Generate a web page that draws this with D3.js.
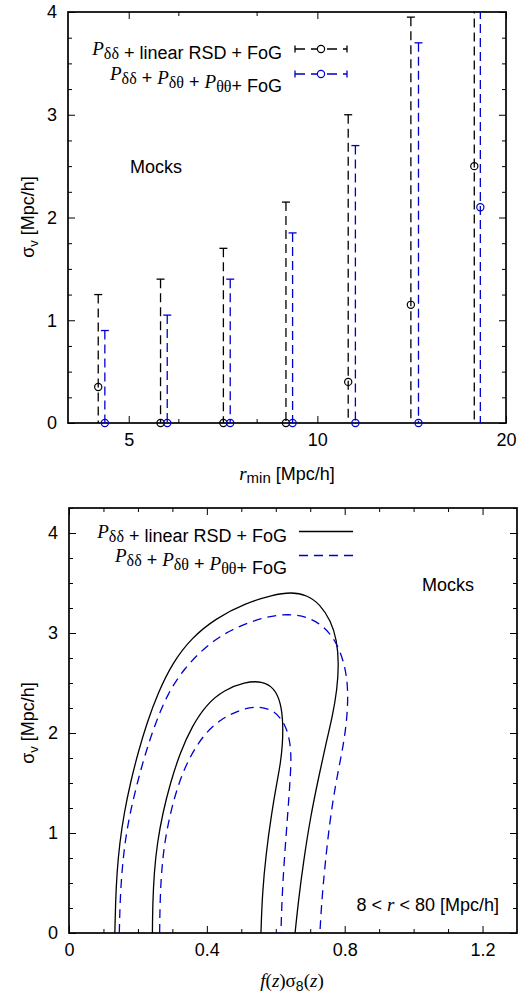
<!DOCTYPE html>
<html>
<head>
<meta charset="utf-8">
<script src="https://cdn.jsdelivr.net/npm/d3@7"></script>
<style>
  html, body { margin: 0; padding: 0; background: #fff; }
  svg { display: block; }
  .sans { font-family: "Liberation Sans", Arial, Helvetica, sans-serif; }
  .serif { font-family: "Liberation Serif", "Times New Roman", serif; }
</style>
</head>
<body>
<svg id="chart" width="525" height="994"></svg>
<script>
// ---------- top panel: sigma_v constraints vs r_min ----------
const rBlack = [4.47, 5.62, 7.08, 8.91, 11.2, 14.1, 17.8];
const rBlue = [4.58, 5.76, 7.26, 9.13, 11.5, 14.5, 18.2];
const sigBlack = [0.35, 0, 0, 0, 0.40, 1.15, 2.50];
const errBlack = [0.90, 1.40, 1.70, 2.15, 2.60, 2.80, 2.80];
const sigBlue = [0, 0, 0, 0, 0, 0, 2.10];
const errBlue = [0.90, 1.05, 1.40, 1.85, 2.70, 3.70, 2.60];
const topXTicks = [5, 10, 20];
const topXMinor = [6, 8];
const topYTicks = [0, 1, 2, 3, 4];

// ---------- bottom panel: 1 and 2 sigma contours (f sigma8, sigma_v) ----------
const outerBlack = [[0.133,0],[0.135,0.3],[0.139,0.6],[0.147,0.9],[0.160,1.2],[0.178,1.5],[0.200,1.8],[0.226,2.1],[0.258,2.4],[0.300,2.7],[0.355,2.95],[0.427,3.15],[0.514,3.30],[0.59,3.38],[0.645,3.41],[0.69,3.38],[0.728,3.29],[0.760,3.12],[0.777,2.93],[0.783,2.70],[0.778,2.43],[0.764,2.16],[0.748,1.93],[0.727,1.60],[0.700,1.15],[0.680,0.70],[0.666,0.33],[0.656,0]];
const outerBlue = [[0.146,0],[0.148,0.3],[0.153,0.6],[0.162,0.9],[0.177,1.2],[0.198,1.5],[0.222,1.8],[0.251,2.1],[0.287,2.4],[0.335,2.65],[0.398,2.87],[0.466,3.03],[0.562,3.16],[0.650,3.20],[0.718,3.13],[0.770,2.96],[0.800,2.70],[0.811,2.43],[0.806,2.10],[0.792,1.80],[0.774,1.50],[0.756,1.10],[0.742,0.65],[0.733,0.3],[0.728,0]];
const innerBlack = [[0.242,0],[0.243,0.3],[0.247,0.6],[0.256,0.9],[0.272,1.2],[0.294,1.5],[0.322,1.8],[0.357,2.07],[0.400,2.29],[0.450,2.43],[0.510,2.51],[0.560,2.52],[0.596,2.45],[0.615,2.30],[0.621,2.10],[0.620,1.90],[0.614,1.70],[0.603,1.50],[0.588,1.20],[0.572,0.80],[0.561,0.40],[0.557,0]];
const innerBlue = [[0.263,0],[0.264,0.3],[0.268,0.6],[0.277,0.9],[0.294,1.2],[0.318,1.5],[0.350,1.76],[0.390,1.98],[0.440,2.14],[0.500,2.24],[0.552,2.27],[0.598,2.22],[0.627,2.09],[0.641,1.93],[0.645,1.75],[0.642,1.55],[0.635,1.2],[0.625,0.75],[0.618,0.35],[0.615,0]];
const botXTicks = [0, 0.4, 0.8, 1.2];
const botYTicks = [0, 1, 2, 3, 4];

const BLUE = "#0000cc";
const FS = 18;
const svg = d3.select("#chart");

// ---------- helpers ----------
function frameAxes(g, x, y, majX, minX, majY, minY, fmtX, fmtY, box) {
  const [x0, x1] = box.x, [y0, y1] = box.y;
  const style = sel => {
    sel.select(".domain").remove();
    sel.selectAll("line").attr("stroke", "#000").attr("stroke-width", 1);
    sel.selectAll("text").attr("class", "sans").attr("font-size", FS).attr("fill", "#000");
  };
  g.append("g").attr("transform", `translate(0,${y0})`)
    .call(d3.axisBottom(x).tickValues(majX).tickSize(-7).tickPadding(10).tickFormat(fmtX)).call(style);
  g.append("g").attr("transform", `translate(0,${y0})`)
    .call(d3.axisBottom(x).tickValues(minX).tickSize(-4).tickFormat("")).call(style);
  g.append("g").attr("transform", `translate(0,${y1})`)
    .call(d3.axisTop(x).tickValues(majX).tickSize(-7).tickFormat("")).call(style);
  g.append("g").attr("transform", `translate(0,${y1})`)
    .call(d3.axisTop(x).tickValues(minX).tickSize(-4).tickFormat("")).call(style);
  g.append("g").attr("transform", `translate(${x0},0)`)
    .call(d3.axisLeft(y).tickValues(majY).tickSize(-7).tickPadding(11).tickFormat(fmtY)).call(style);
  g.append("g").attr("transform", `translate(${x0},0)`)
    .call(d3.axisLeft(y).tickValues(minY).tickSize(-4).tickFormat("")).call(style);
  g.append("g").attr("transform", `translate(${x1},0)`)
    .call(d3.axisRight(y).tickValues(majY).tickSize(-7).tickFormat("")).call(style);
  g.append("g").attr("transform", `translate(${x1},0)`)
    .call(d3.axisRight(y).tickValues(minY).tickSize(-4).tickFormat("")).call(style);
  g.append("rect").attr("x", x0).attr("y", y1).attr("width", x1 - x0).attr("height", y0 - y1)
    .attr("fill", "none").attr("stroke", "#000").attr("stroke-width", 1.7);
}

// legend label: P_ab + ... written with tspans
function legendText(g, xr, yb, parts) {
  const t = g.append("text").attr("x", xr).attr("y", yb).attr("text-anchor", "end")
    .attr("font-size", FS).attr("fill", "#000");
  parts.forEach(p => {
    if (p.P) {
      t.append("tspan").attr("class", "serif").attr("font-style", "italic").attr("font-size", 19).text("P");
      t.append("tspan").attr("class", "serif").attr("font-size", 16).attr("dy", 4).text(p.P);
      t.append("tspan").attr("dy", -4).text("");
    } else {
      t.append("tspan").attr("class", "sans").attr("font-size", FS).text(p.s);
    }
  });
}

function sigmaLabel(g, cx, cy) {
  const t = g.append("text").attr("transform", `translate(${cx},${cy}) rotate(-90)`)
    .attr("text-anchor", "middle").attr("class", "sans").attr("font-size", FS);
  t.append("tspan").text("σ");
  t.append("tspan").attr("font-size", 13).attr("dy", 4).text("v");
  t.append("tspan").attr("dy", -4).text(" [Mpc/h]");
}

// ================= top panel =================
{
  const box = { x: [68, 506], y: [423, 12] };
  const x = d3.scaleLog().domain([4, 20]).range(box.x);
  const y = d3.scaleLinear().domain([0, 4]).range(box.y);
  const g = svg.append("g");

  svg.append("clipPath").attr("id", "clipTop").append("rect")
    .attr("x", box.x[0]).attr("y", box.y[1]).attr("width", box.x[1] - box.x[0]).attr("height", box.y[0] - box.y[1]);

  frameAxes(g, x, y, topXTicks, topXMinor, topYTicks, d3.range(0, 4.01, 0.25).filter(v => v % 1 !== 0),
    d3.format("d"), d3.format("d"), box);

  const series = [
    { r: rBlack, s: sigBlack, e: errBlack, c: "#000" },
    { r: rBlue, s: sigBlue, e: errBlue, c: BLUE }
  ];
  const bars = g.append("g").attr("clip-path", "url(#clipTop)");
  series.forEach(S => {
    S.r.forEach((r, i) => {
      const hi = S.s[i] + S.e[i], lo = S.s[i] - S.e[i];
      const px = x(r);
      bars.append("line").attr("x1", px).attr("x2", px).attr("y1", y(hi)).attr("y2", y(lo))
        .attr("stroke", S.c).attr("stroke-width", 1.3).attr("stroke-dasharray", "9,5");
      if (hi <= 4) {
        bars.append("line").attr("x1", px - 4).attr("x2", px + 4).attr("y1", y(hi)).attr("y2", y(hi))
          .attr("stroke", S.c).attr("stroke-width", 1.3);
      }
    });
    S.r.forEach((r, i) => {
      g.append("circle").attr("cx", x(r)).attr("cy", y(S.s[i])).attr("r", 3.6)
        .attr("fill", "none").attr("stroke", S.c).attr("stroke-width", 1.2);
    });
  });

  // legend
  const leg = [
    { yc: 49, c: "#000", parts: [{ P: "δδ" }, { s: " + linear RSD + FoG" }] },
    { yc: 74, c: BLUE, parts: [{ P: "δδ" }, { s: " + " }, { P: "δθ" }, { s: " + " }, { P: "θθ" }, { s: "+ FoG" }] }
  ];
  leg.forEach(L => {
    legendText(g, 282, L.yc + 6, L.parts);
    g.append("line").attr("x1", 295).attr("x2", 347).attr("y1", L.yc).attr("y2", L.yc)
      .attr("stroke", L.c).attr("stroke-width", 1.3).attr("stroke-dasharray", "10,6");
    [295, 347].forEach(cx => g.append("line").attr("x1", cx).attr("x2", cx).attr("y1", L.yc - 3.5).attr("y2", L.yc + 3.5)
      .attr("stroke", L.c).attr("stroke-width", 1.3));
    g.append("circle").attr("cx", 321).attr("cy", L.yc).attr("r", 3.6).attr("fill", "#fff")
      .attr("stroke", L.c).attr("stroke-width", 1.2);
  });

  g.append("text").attr("class", "sans").attr("font-size", FS).attr("x", 130).attr("y", 173).text("Mocks");

  sigmaLabel(g, 34, 217);
  const xl = g.append("text").attr("x", 287).attr("y", 480).attr("text-anchor", "middle").attr("font-size", FS);
  xl.append("tspan").attr("class", "serif").attr("font-style", "italic").attr("font-size", 19).text("r");
  xl.append("tspan").attr("class", "sans").attr("font-size", 15).attr("dy", 3).text("min");
  xl.append("tspan").attr("class", "sans").attr("dy", -3).text(" [Mpc/h]");
}

// ================= bottom panel =================
{
  const box = { x: [69, 517], y: [933, 508] };
  const x = d3.scaleLinear().domain([0, 1.3]).range(box.x);
  const y = d3.scaleLinear().domain([0, 4.25]).range(box.y);
  const g = svg.append("g");

  svg.append("clipPath").attr("id", "clipBot").append("rect")
    .attr("x", box.x[0]).attr("y", box.y[1]).attr("width", box.x[1] - box.x[0]).attr("height", box.y[0] - box.y[1]);

  frameAxes(g, x, y, botXTicks, [0.1,0.2,0.3,0.5,0.6,0.7,0.9,1.0,1.1],
    topYTicks, d3.range(0, 4.26, 0.25).filter(v => v % 1 !== 0),
    d => d === 0 ? "0" : d3.format(".1f")(d), d3.format("d"), box);

  const line = d3.line().x(d => x(d[0])).y(d => y(d[1])).curve(d3.curveBasis);
  const cg = g.append("g").attr("clip-path", "url(#clipBot)");
  [[outerBlack, "#000", null], [innerBlack, "#000", null], [outerBlue, BLUE, "9,6"], [innerBlue, BLUE, "9,6"]]
    .forEach(([pts, c, dash]) => {
      cg.append("path").attr("d", line(pts)).attr("fill", "none").attr("stroke", c)
        .attr("stroke-width", 1.3).attr("stroke-dasharray", dash);
    });

  const leg = [
    { yc: 531.5, c: "#000", dash: null, parts: [{ P: "δδ" }, { s: " + linear RSD + FoG" }] },
    { yc: 555.5, c: BLUE, dash: "9,6", parts: [{ P: "δδ" }, { s: " + " }, { P: "δθ" }, { s: " + " }, { P: "θθ" }, { s: "+ FoG" }] }
  ];
  leg.forEach(L => {
    legendText(g, 287, L.yc + 6, L.parts);
    g.append("line").attr("x1", 299).attr("x2", 353).attr("y1", L.yc).attr("y2", L.yc)
      .attr("stroke", L.c).attr("stroke-width", 1.3).attr("stroke-dasharray", L.dash);
  });

  g.append("text").attr("class", "sans").attr("font-size", FS).attr("x", 422).attr("y", 591).text("Mocks");

  const rr = g.append("text").attr("x", 499).attr("y", 911).attr("text-anchor", "end").attr("font-size", FS);
  rr.append("tspan").attr("class", "sans").text("8 < ");
  rr.append("tspan").attr("class", "serif").attr("font-style", "italic").attr("font-size", 19).text("r");
  rr.append("tspan").attr("class", "sans").text(" < 80 [Mpc/h]");

  sigmaLabel(g, 34, 723);
  const xl = g.append("text").attr("x", 292).attr("y", 987).attr("text-anchor", "middle").attr("font-size", 19);
  xl.append("tspan").attr("class", "serif").attr("font-style", "italic").text("f");
  xl.append("tspan").attr("class", "serif").text("(");
  xl.append("tspan").attr("class", "serif").attr("font-style", "italic").text("z");
  xl.append("tspan").attr("class", "serif").text(")σ");
  xl.append("tspan").attr("class", "sans").attr("font-size", 14).attr("dy", 4).text("8");
  xl.append("tspan").attr("class", "serif").attr("dy", -4).text("(");
  xl.append("tspan").attr("class", "serif").attr("font-style", "italic").text("z");
  xl.append("tspan").attr("class", "serif").text(")");
}
</script>
</body>
</html>
